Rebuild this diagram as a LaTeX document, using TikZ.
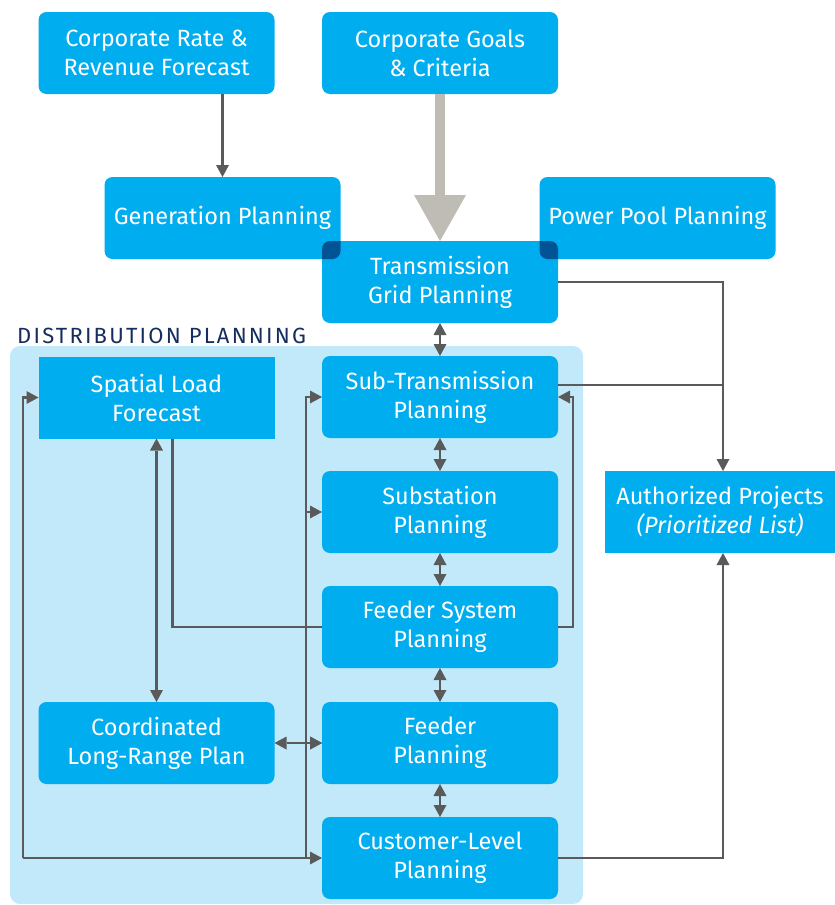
\documentclass[tikz,border=0pt]{standalone}
\usepackage{fontspec}
\setmainfont{Fira Sans}
\usetikzlibrary{arrows.meta}
\definecolor{boxblue}{RGB}{0,173,239}
\definecolor{distblue}{RGB}{194,233,250}
\definecolor{overlapblue}{RGB}{0,84,150}
\definecolor{linegray}{RGB}{90,90,90}
\definecolor{biggray}{RGB}{191,188,182}
\definecolor{titleblue}{RGB}{22,45,95}
\tikzstyle{plan}=[fill=boxblue, text=white, rounded corners=8pt, minimum width=236pt, minimum height=82pt, inner sep=0pt, outer sep=0pt, align=center, font=\fontsize{23.5}{29}\selectfont]
\tikzstyle{flatplan}=[plan, sharp corners]
\tikzstyle{plain}=[draw=linegray, line width=2.4pt]
\tikzstyle{link}=[plain, -{Triangle[length=12pt,width=13pt,line width=0pt]}]
\tikzstyle{twoway}=[plain, {Triangle[length=12pt,width=13pt,line width=0pt]}-{Triangle[length=12pt,width=13pt,line width=0pt]}]

\begin{document}
\begin{tikzpicture}[x=1pt,y=-1pt]
	\useasboundingbox (0,0) rectangle (835,905);
	\fill[distblue, rounded corners=10pt] (10,346) rectangle (583,904);
	\node[anchor=west, inner sep=0pt, text=titleblue, font=\fontsize{22}{24}\selectfont\addfontfeatures{LetterSpace=10}] (dtitle) at (17,336) {DISTRIBUTION PLANNING};

	\node[plan] (crf) at (156.5,53) {Corporate Rate \&\\Revenue Forecast};
	\node[plan] (cgc) at (440,53) {Corporate Goals\\\& Criteria};
	\node[plan] (gen) at (222.5,218) {Generation Planning};
	\node[plan] (ppp) at (657.5,218) {Power Pool Planning};
	\node[plan] (tgp) at (440,282) {Transmission\\Grid Planning};
	\begin{scope}
		\clip[rounded corners=8pt] (gen.south west) rectangle (gen.north east);
		\fill[overlapblue, rounded corners=8pt] (tgp.south west) rectangle (tgp.north east);
	\end{scope}
	\begin{scope}
		\clip[rounded corners=8pt] (ppp.south west) rectangle (ppp.north east);
		\fill[overlapblue, rounded corners=8pt] (tgp.south west) rectangle (tgp.north east);
	\end{scope}
	\node[flatplan] (slf) at (156.5,397.5) {Spatial Load\\Forecast};
	\node[plan] (stp) at (440,397) {Sub-Transmission\\Planning};
	\node[plan] (ssp) at (440,512) {Substation\\Planning};
	\node[plan] (fsp) at (440,627) {Feeder System\\Planning};
	\node[plan] (clr) at (156.5,743) {Coordinated\\Long-Range Plan};
	\node[plan] (fdp) at (440,743) {Feeder\\Planning};
	\node[plan] (clv) at (440,858) {Customer-Level\\Planning};
	\node[flatplan, minimum width=230pt] (apl) at (720,512) {Authorized Projects\\\textit{(Prioritized List)}};

	\coordinate (busl) at (23,858);
	\coordinate (busr) at (306,858);
	\coordinate (aplin) at ([xshift=3pt]apl.north);
	\coordinate (aplout) at ([xshift=3pt]apl.south);
	\coordinate (stpout) at ([yshift=12pt]stp.east);

	\draw[link] (gen.north |- crf.south) -- (gen.north);
	\draw[biggray, line width=10pt, -{Triangle[length=46pt,width=52pt,line width=0pt]}] (cgc.south) -- (tgp.north);
	\draw[twoway] (tgp.south) -- (stp.north);
	\draw[twoway] (stp.south) -- (ssp.north);
	\draw[twoway] (ssp.south) -- (fsp.north);
	\draw[twoway] (fsp.south) -- (fdp.north);
	\draw[twoway] (fdp.south) -- (clv.north);
	\draw[link] (tgp.east) -| (aplin);
	\draw[plain] (stpout) -- (stpout -| aplin);
	\draw[link] (fsp.east) -- ++(15,0) |- (stp.east);
	\draw[plain] (fsp.west) -| ([xshift=16pt]slf.south);
	\draw[twoway] (slf.south) -- (clr.north);
	\draw[twoway] (clr.east) -- (fdp.west);
	\draw[link] (busl) -- (clv.west);
	\draw[link] (busl) |- (slf.west);
	\draw[link] (busr) |- (stp.west);
	\draw[link] (busr |- ssp.west) -- (ssp.west);
	\draw[link] (busr |- fdp.west) -- (fdp.west);
	\draw[link] (clv.east) -| (aplout);
\end{tikzpicture}
\end{document}
